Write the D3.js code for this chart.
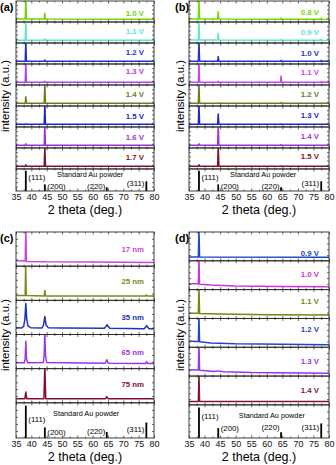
<!DOCTYPE html>
<html>
<head>
    <title>Au XRD patterns</title>
    <script src="https://d3js.org/d3.v7.min.js"></script>
    <style>
        body { margin: 0; background: #fff; }
        #chart text { font-family: "Liberation Sans", Arial, sans-serif; }
    </style>
    <script>
        // Au standard powder reflections
        var stdPeaks = [38.2, 44.4, 64.6, 77.5];
        var stdHeights = [0.92, 0.30, 0.17, 0.44];
        var stdLabels = ["(111)", "(200)", "(220)", "(311)"];
        var xTicks = [35, 40, 45, 50, 55, 60, 65, 70, 75, 80];
        var xMinor = [37.5, 42.5, 47.5, 52.5, 57.5, 62.5, 67.5, 72.5, 77.5];

        //panel (a)
        var namesA = ["1.0 V", "1.1 V", "1.2 V", "1.3 V", "1.4 V", "1.5 V", "1.6 V", "1.7 V"];
        var colorsA = ["#6fd400", "#5fe6c6", "#1f33c8", "#b443e0", "#6e7a1e", "#1a26cc", "#9a35d8", "#7a1428"];
        var tracesA = [
            [[35, .14], [38.0, .14], [38.2, 1.1], [38.4, .14], [44.2, .14], [44.4, .42], [44.6, .14], [80, .13]],
            [[35, .13], [38.0, .13], [38.2, 1.1], [38.4, .13], [44.2, .13], [44.4, .20], [44.6, .13], [80, .13]],
            [[35, .13], [38.0, .13], [38.2, 1.1], [38.4, .13], [44.2, .13], [44.4, .19], [44.6, .13], [80, .13]],
            [[35, .13], [38.0, .13], [38.2, 1.1], [38.4, .13], [44.2, .13], [44.4, .17], [44.6, .13], [80, .13]],
            [[35, .13], [38.0, .13], [38.2, .44], [38.4, .13], [44.2, .13], [44.4, 1.1], [44.6, .13], [80, .13]],
            [[35, .13], [38.0, .13], [38.2, .15], [38.4, .13], [44.2, .13], [44.4, 1.1], [44.6, .13], [80, .13]],
            [[35, .13], [38.0, .13], [38.2, .20], [38.4, .13], [44.2, .13], [44.4, 1.1], [44.6, .13], [80, .13]],
            [[35, .13], [38.0, .13], [38.2, .20], [38.4, .13], [44.2, .13], [44.4, 1.1], [44.6, .13], [80, .13]]
        ];

        //panel (b)
        var namesB = ["0.8 V", "0.9 V", "1.0 V", "1.1 V", "1.2 V", "1.3 V", "1.4 V", "1.5 V"];
        var colorsB = ["#6fdc00", "#5fe6c6", "#2233cc", "#c844ec", "#6e7a1e", "#1a26cc", "#9a35d8", "#7a1428"];
        var tracesB = [
            [[35, .14], [38.0, .14], [38.2, 1.1], [38.4, .14], [44.2, .14], [44.4, .49], [44.6, .14], [64.4, .13], [64.6, .18], [64.8, .13], [77.3, .13], [77.5, .18], [77.7, .13], [80, .12]],
            [[35, .14], [38.0, .14], [38.2, 1.1], [38.4, .14], [44.2, .14], [44.4, .45], [44.6, .14], [64.4, .13], [64.6, .16], [64.8, .13], [77.3, .13], [77.5, .18], [77.7, .13], [80, .12]],
            [[35, .13], [38.0, .13], [38.2, 1.1], [38.4, .13], [44.2, .13], [44.4, .36], [44.6, .13], [64.4, .13], [64.6, .17], [64.8, .13], [77.3, .13], [77.5, .17], [77.7, .13], [80, .13]],
            [[35, .13], [38.0, .13], [38.2, 1.1], [38.4, .13], [44.2, .13], [44.4, .17], [44.6, .13], [64.4, .13], [64.6, .43], [64.8, .13], [77.3, .13], [77.5, .16], [77.7, .13], [80, .13]],
            [[35, .13], [38.0, .13], [38.2, 1.1], [38.4, .13], [44.2, .13], [44.4, .15], [44.6, .13], [64.4, .13], [64.6, .16], [64.8, .13], [77.3, .13], [77.5, .14], [77.7, .13], [80, .13]],
            [[35, .13], [38.0, .13], [38.2, 1.1], [38.4, .13], [44.2, .13], [44.4, .62], [44.6, .13], [64.4, .13], [64.6, .14], [64.8, .13], [80, .13]],
            [[35, .13], [38.0, .13], [38.2, .20], [38.4, .13], [44.2, .13], [44.4, 1.1], [44.6, .13], [64.4, .13], [64.6, .16], [64.8, .13], [80, .13]],
            [[35, .13], [38.0, .13], [38.2, .20], [38.4, .13], [44.2, .13], [44.4, 1.1], [44.6, .13], [64.4, .13], [64.6, .14], [64.8, .13], [80, .13]]
        ];

        //panel (c)
        var namesC = ["17 nm", "25 nm", "35 nm", "65 nm", "75 nm"];
        var colorsC = ["#cc44dd", "#7a8a1a", "#2233bb", "#9933ee", "#801030"];
        var tracesC = [
            [[35, .16], [38.0, .15], [38.2, 1.1], [38.4, .14], [44.2, .13], [44.4, .14], [44.6, .13], [60, .12], [80, .11]],
            [[35, .14], [38.0, .14], [38.15, 1.1], [38.35, .14], [44.2, .13], [44.4, .29], [44.6, .13], [77.3, .13], [77.5, .16], [77.7, .13], [80, .13]],
            [[35, .20], [36.8, .19], [37.5, .24], [37.9, .45], [38.2, .91], [38.5, .45], [38.9, .25], [39.8, .20], [43.5, .19], [44.0, .28], [44.4, .53],
             [44.8, .28], [45.5, .20], [50, .19], [63.8, .18], [64.4, .24], [64.7, .29], [65.0, .24], [65.6, .18], [76.8, .17], [77.3, .22], [77.6, .26],
             [77.9, .22], [78.4, .17], [80, .17]],
            [[35, .17], [37.7, .17], [38.0, .30], [38.2, .80], [38.4, .30], [38.8, .17], [43.9, .18], [44.2, .40], [44.4, 1.1], [44.6, .40], [45.0, .18],
             [64.1, .16], [64.6, .26], [65.1, .16], [77.2, .15], [77.6, .20], [78.0, .15], [80, .15]],
            [[35, .12], [37.9, .12], [38.2, .32], [38.5, .12], [44.1, .12], [44.4, 1.1], [44.7, .12], [64.2, .12], [64.6, .18], [65.0, .12], [80, .12]]
        ];

        //panel (d)
        var namesD = ["0.9 V", "1.0 V", "1.1 V", "1.2 V", "1.3 V", "1.4 V"];
        var colorsD = ["#2244cc", "#cc33dd", "#6e8a10", "#2244cc", "#9933ee", "#801830"];
        var tracesD = [
            [[35, .13], [38.0, .13], [38.2, 1.1], [38.4, .13], [80, .12]],
            [[35, .20], [38.0, .20], [38.2, 1.1], [38.4, .19], [42, .16], [50, .13], [65, .11], [80, .10]],
            [[35, .18], [38.0, .18], [38.2, 1.1], [38.4, .17], [45, .15], [60, .13], [80, .12]],
            [[35, .22], [37, .20], [38.0, .20], [38.2, 1.1], [38.4, .19], [42, .15], [50, .12], [65, .10], [80, .09]],
            [[35, .22], [38.0, .21], [38.2, 1.1], [38.4, .20], [43, .16], [44.4, .18], [46, .15], [55, .12], [80, .10]],
            [[35, .12], [38.0, .12], [38.2, 1.1], [38.4, .12], [80, .12]]
        ];

        var panels = [
            { id: "a", x0: 16, x1: 154, y0: 1, y1: 191, stdW: 1.05, names: namesA, colors: colorsA, traces: tracesA,
              labelFrac: [.57, .46, .46, .36, .44, .48, .48, .43], yTitleX: 5, tagX: 0, stdX: 48.4,
              stdFrac: [.73, .64, .23, .23, .36] },
            { id: "b", x0: 189, x1: 329, y0: 1, y1: 191, stdW: 1.05, names: namesB, colors: colorsB, traces: tracesB,
              labelFrac: [.54, .49, .49, .41, .44, .43, .43, .41], yTitleX: 180, tagX: 175, stdX: 48.2,
              stdFrac: [.73, .64, .23, .23, .36] },
            { id: "c", x0: 16, x1: 154, y0: 232, y1: 438, stdW: 1.03, names: namesC, colors: colorsC, traces: tracesC,
              labelFrac: [.52, .45, .5, .53, .46], yTitleX: 5, tagX: 0, stdX: 47.1,
              stdFrac: [.71, .54, .17, .2, .26] },
            { id: "d", x0: 189, x1: 329, y0: 232, y1: 438, stdW: 1.15, names: namesD, colors: colorsD, traces: tracesD,
              labelFrac: [.75, .47, .4, .36, .48, .49], yTitleX: 180, tagX: 175, stdX: 51,
              stdFrac: [.68, .67, .3, .33, .33] }
        ];

        window.addEventListener("load", drawAll);

        function drawAll() {
            var svg = d3.select("#chart");
            panels.forEach(function (p) { drawPanel(svg, p); });
        }

        function drawPanel(svg, p) {
            var n = p.traces.length;
            var h = (p.y1 - p.y0) / (n + p.stdW);
            var x = d3.scaleLinear().domain([35, 80]).range([p.x0, p.x1]);
            var g = svg.append("g");
            var line = null;

            for (var i = 0; i <= n; i++) {
                var top = p.y0 + i * h;
                var bot = (i < n) ? top + h : p.y1;
                var y = d3.scaleLinear().domain([0, 1]).range([bot, top]);
                line = d3.line().x(d => x(d[0])).y(d => y(d[1]));

                var clipId = "clip-" + p.id + i;
                g.append("clipPath").attr("id", clipId)
                    .append("rect")
                    .attr("x", p.x0).attr("y", top)
                    .attr("width", p.x1 - p.x0).attr("height", bot - top);

                if (i < n) {
                    //the pattern
                    g.append("path")
                        .datum(p.traces[i])
                        .attr("clip-path", "url(#" + clipId + ")")
                        .attr("fill", "none")
                        .attr("stroke", p.colors[i])
                        .attr("stroke-width", 1.5)
                        .attr("stroke-linejoin", "round")
                        .attr("d", line);
                    g.append("text")
                        .attr("x", p.x1 - 10)
                        .attr("y", top + h * p.labelFrac[i])
                        .attr("dy", ".35em")
                        .attr("text-anchor", "end")
                        .attr("font-size", 7.8)
                        .attr("font-weight", "bold")
                        .attr("fill", p.colors[i])
                        .text(p.names[i]);
                } else {
                    //standard Au powder sticks
                    g.selectAll(null)
                        .data(stdPeaks)
                        .enter()
                        .append("line")
                        .attr("x1", d => x(d)).attr("x2", d => x(d))
                        .attr("y1", y(0))
                        .attr("y2", (d, k) => y(stdHeights[k]))
                        .attr("stroke", "#000")
                        .attr("stroke-width", 1.8);
                    var sh = bot - top;
                    g.append("text")
                        .attr("x", x(p.stdX))
                        .attr("y", bot - sh * p.stdFrac[0])
                        .attr("dy", ".35em")
                        .attr("font-size", 7.3)
                        .text("Standard Au powder");
                    var offs = [2.5, 2.5, -1.5, -2];
                    var anch = ["start", "start", "end", "end"];
                    g.selectAll(null)
                        .data(stdLabels)
                        .enter()
                        .append("text")
                        .attr("x", (d, k) => x(stdPeaks[k]) + offs[k])
                        .attr("y", (d, k) => bot - sh * p.stdFrac[k + 1])
                        .attr("dy", ".35em")
                        .attr("text-anchor", (d, k) => anch[k])
                        .attr("font-size", 7.8)
                        .text(d => d);
                }

                //frame
                g.append("rect")
                    .attr("x", p.x0).attr("y", top)
                    .attr("width", p.x1 - p.x0).attr("height", bot - top)
                    .attr("fill", "none")
                    .attr("stroke", "#2a2a2a")
                    .attr("stroke-width", 0.9);

                edgeTicks(g, x, y, top, bot, p);
            }

            //x-axis labels
            var ax = g.append("g")
                .attr("transform", "translate(0," + p.y1 + ")")
                .call(d3.axisBottom(x).tickValues(xTicks).tickSize(0).tickPadding(3));
            ax.select(".domain").remove();
            ax.selectAll("text").attr("font-size", 9).attr("fill", "#111");

            g.append("text")
                .attr("x", (p.x0 + p.x1) / 2)
                .attr("y", p.y1 + 23)
                .attr("text-anchor", "middle")
                .attr("font-size", 12.5)
                .text("2 theta (deg.)");

            g.append("text")
                .attr("transform", "translate(" + p.yTitleX + "," + ((p.y0 + p.y1) / 2) + ") rotate(-90)")
                .attr("dy", ".35em")
                .attr("text-anchor", "middle")
                .attr("font-size", 11.5)
                .text("intensity (a.u.)");

            g.append("text")
                .attr("x", p.tagX)
                .attr("y", p.y0 + 10)
                .attr("font-size", 11)
                .attr("font-weight", "bold")
                .text("(" + p.id + ")");
        }

        //small inward ticks on all four edges of a strip
        function edgeTicks(g, x, y, top, bot, p) {
            var parts = [
                [d3.axisBottom(x).tickValues(xTicks).tickSize(2.5), "translate(0," + top + ")"],
                [d3.axisBottom(x).tickValues(xMinor).tickSize(1.5), "translate(0," + top + ")"],
                [d3.axisTop(x).tickValues(xTicks).tickSize(2.5), "translate(0," + bot + ")"],
                [d3.axisTop(x).tickValues(xMinor).tickSize(1.5), "translate(0," + bot + ")"],
                [d3.axisRight(y).tickValues([.2, .4, .6, .8]).tickSize(2), "translate(" + p.x0 + ",0)"],
                [d3.axisLeft(y).tickValues([.2, .4, .6, .8]).tickSize(2), "translate(" + p.x1 + ",0)"]
            ];
            parts.forEach(function (pt) {
                var a = g.append("g")
                    .attr("transform", pt[1])
                    .style("color", "#2a2a2a")
                    .call(pt[0].tickFormat(""));
                a.select(".domain").remove();
                a.selectAll("line").attr("stroke-width", 0.7);
            });
        }
    </script>
</head>
<body>
    <svg id="chart" width="336" height="465"></svg>
</body>
</html>
